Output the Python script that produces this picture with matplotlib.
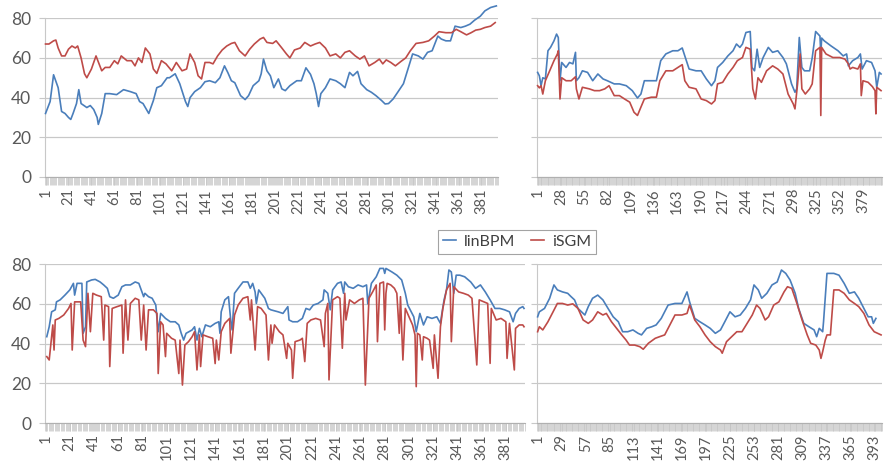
import matplotlib.pyplot as plt
from matplotlib.ticker import FixedLocator, NullFormatter

plt.rcParams['font.family'] = ['Lato', 'DejaVu Sans']

BLUE = '#4a7ebb'
RED = '#be4b48'
GRID = '#c8c8c8'
TEXT = '#595959'

# ---- top-left panel ----
tl_n = 395
tl_blue_idx = [1, 5, 8, 12, 15, 18, 21, 23, 25, 28, 30, 32, 37, 40, 43, 46, 47, 50, 53, 57, 63, 69, 75, 80,
               83, 86, 91, 95, 98, 102, 107, 109, 114, 118, 123, 125, 127, 131, 136, 140, 144, 149, 153,
               157, 160, 163, 166, 171, 175, 178, 182, 187, 189, 191, 194, 197, 200, 204, 207, 210, 214,
               220, 224, 228, 232, 235, 237, 239, 241, 245, 249, 254, 258, 262, 266, 269, 273, 276, 281,
               285, 289, 294, 297, 300, 304, 308, 313, 317, 321, 326, 330, 334, 338, 343, 346, 350, 354,
               358, 363, 367, 371, 375, 380, 384, 389, 394]
tl_blue = [32, 38, 51.5, 45, 33, 32, 30, 29, 32, 37, 44, 37, 35, 36, 34, 30, 26.5, 32, 42, 42, 41.5, 44, 43, 42,
           38, 37, 32, 38.5, 45, 46, 50, 50, 52, 47, 38, 35.5, 40, 43, 45, 48, 48.5, 47.5, 50,
           56, 52.5, 48.5, 47.5, 41, 39, 41, 46, 48.5, 52, 59.4, 53.5, 51, 45, 49.4, 44.4, 43.5, 46,
           48.5, 48.5, 55, 51.7, 47, 42, 35.5, 42, 45, 49.4, 48.5, 47, 45, 52.7, 51, 53.2, 47, 44,
           42.7, 41, 38.5, 36.8, 37, 39.3, 42.7, 47, 54.5, 62, 61, 59.4, 62.8, 63.6, 71, 69.5, 68.6, 68.6,
           76, 75.3, 76, 77, 79, 81, 83.7, 85.4, 86.2]
tl_red_idx = [1, 4, 8, 10, 12, 15, 18, 21, 24, 27, 29, 32, 35, 37, 41, 45, 50, 53, 57, 61, 64, 67, 72, 76,
              79, 82, 85, 88, 92, 95, 98, 102, 106, 111, 115, 120, 124, 127, 131, 134, 137, 140, 144, 147,
              151, 155, 159, 163, 166, 170, 175, 179, 183, 188, 191, 194, 199, 202, 207, 211, 214, 218,
              223, 227, 232, 236, 240, 245, 249, 254, 258, 262, 266, 271, 275, 279, 283, 288, 292, 295,
              298, 302, 306, 311, 315, 319, 324, 330, 335, 340, 344, 350, 355, 359, 363, 368, 372, 376,
              380, 384, 389, 393]
tl_red = [67, 67, 68.6, 69, 65, 61, 61, 64.4, 66, 65, 66, 60, 52, 50, 54.4, 61, 53.5, 55.2, 55.2, 58.6, 57, 61,
          58.6, 58.6, 56, 60, 57.7, 65, 62, 54.4, 52.2, 58.6, 57, 53.5, 57.7, 53.5, 54.4, 62, 57.7, 51,
          49.4, 57.7, 57.7, 57, 61, 64, 66, 67.3, 67.8, 63.6, 61, 64.4, 67, 69.5, 70.3, 67.8, 67.3, 68.6,
          65, 62, 60, 64, 65, 67.8, 66, 67, 67.8, 65, 61, 62, 60, 62.8, 63.6, 61, 59.4, 61, 56, 57.7,
          59.4, 57, 59, 57.7, 56, 58.3, 60, 63.6, 67.3, 67.8, 68.6, 71, 73.2, 72.7, 72.7, 74.4, 73.2,
          71.6, 72.7, 74, 74.4, 75.3, 76, 77.8]

# ---- top-right panel ----
tr_n = 401
tr_blue_idx = [1, 3, 5, 7, 10, 13, 16, 20, 23, 25, 27, 29, 34, 38, 42, 45, 46, 49, 53, 59, 65, 71, 77, 82, 90,
               96, 104, 111, 117, 121, 125, 133, 139, 144, 150, 158, 164, 169, 172, 177, 185, 191, 197,
               203, 207, 210, 216, 222, 228, 232, 236, 239, 243, 248, 250, 253, 256, 259, 263, 269, 274,
               280, 286, 290, 296, 300, 302, 305, 308, 311, 317, 320, 324, 329, 330, 331, 334, 342, 350,
               356, 360, 362, 367, 373, 376, 378, 383, 389, 393, 395, 398, 400]
tr_blue = [52.7, 51, 46, 50, 49.4, 63.6, 65.3, 68.6, 72, 70.3, 48.5, 57.7, 55.2, 57.7, 57, 62.8, 48.5, 50,
           53.5, 52.7, 48.5, 51.9, 49.4, 48.5, 46.9, 46.9, 46, 43.5, 39.8, 41.8, 48.5, 48.5, 48.5, 58.6,
           62, 63.6, 63.6, 65, 61, 54.4, 53.5, 53.5, 49.4, 46, 48.5, 55.2, 57.7, 61, 63.6, 67, 65.3, 67,
           72.8, 73.3, 55.2, 53.5, 64.4, 55.2, 60.2, 65.3, 62.8, 63.6, 60.2, 57, 46.9, 42.7, 44.4, 70.3,
           55.2, 53.5, 53.5, 60, 73.3, 71, 62, 70, 68.6, 66, 63.6, 61, 62, 56, 58.6, 60.2, 62, 54.4,
           58.6, 57.7, 53.5, 45.2, 52.7, 51.9]
tr_red_idx = [1, 3, 5, 7, 10, 15, 20, 24, 25, 27, 29, 34, 40, 45, 46, 49, 53, 61, 67, 73, 79, 84, 90, 96, 102,
              108, 113, 117, 121, 125, 133, 139, 143, 150, 158, 164, 169, 172, 177, 185, 191, 197, 203,
              207, 210, 216, 222, 228, 233, 239, 243, 248, 251, 254, 257, 261, 267, 274, 280, 286, 292,
              298, 300, 303, 306, 308, 312, 317, 320, 324, 329, 330, 331, 336, 344, 352, 358, 362, 364,
              367, 373, 376, 377, 379, 385, 390, 393, 394, 395, 400]
tr_red = [46, 44.9, 46, 41.8, 48.5, 53.5, 58.6, 62, 63.6, 39.3, 50, 48.5, 48.5, 50.5, 44.4, 39.3, 45.2,
          44.4, 43.5, 43.5, 44.4, 46, 41, 41, 39.3, 37.7, 32.6, 31, 35.2, 39.3, 40.2, 40.2, 48.5, 53.5,
          53.5, 55.2, 56.6, 48.5, 45.2, 44.4, 39.3, 38.5, 36.8, 38.5, 46.9, 47.7, 51.9, 55.2, 58.6,
          60.2, 65.3, 64.4, 44.4, 39.3, 50, 47.7, 53.5, 56, 54.4, 51.9, 41.8, 36.8, 34.3, 46.9, 62,
          44.4, 41.8, 44.4, 46.9, 63.6, 65.3, 31, 65.3, 62, 60.2, 60.2, 59.4, 57, 54.4, 55.2, 54.4, 57,
          41, 48.5, 47.7, 45.5, 43.5, 31.8, 45.2, 43.5]

# ---- bottom-left panel ----
bl_n = 396
bl_blue_idx = [2, 4, 6, 9, 10, 13, 17, 21, 24, 25, 27, 31, 32, 34, 35, 39, 42, 46, 49, 52, 54, 57, 61, 64,
               67, 71, 75, 78, 80, 82, 83, 86, 89, 92, 94, 96, 100, 104, 108, 111, 113, 115, 117, 122,
               124, 126, 128, 130, 133, 137, 141, 144, 145, 146, 149, 152, 154, 155, 157, 160, 164, 168,
               170, 172, 174, 175, 177, 179, 182, 185, 187, 193, 197, 201, 202, 205, 209, 213, 216, 219,
               222, 226, 230, 231, 234, 236, 238, 242, 245, 247, 248, 251, 255, 259, 263, 266, 267, 270,
               274, 277, 280, 281, 282, 287, 291, 295, 298, 300, 305, 307, 310, 313, 316, 320, 324, 327,
               328, 330, 332, 334, 336, 338, 340, 343, 347, 352, 356, 360, 364, 368, 372, 376, 380, 384,
               387, 389, 392, 395, 396]
bl_blue = [43.5, 48.5, 56, 57, 61, 62, 64.4, 67, 70.3, 64.4, 70.3, 70.3, 45.2, 48.5, 71, 72, 72.3, 71, 69.5,
           67.8, 63.6, 62.8, 64.4, 68.6, 69.5, 69.5, 71, 70.3, 67, 63.6, 65.3, 63.6, 62.8, 59.4, 46, 55.2,
           52.7, 51, 51, 49.4, 45.2, 41.8, 45.2, 46.9, 48.5, 41.8, 47.7, 43.5, 49.4, 48.5, 50.2, 51,
           45.2, 56, 62, 63.6, 51, 46.9, 65.3, 67.8, 71, 71, 67.8, 70.3, 66, 60.2, 67, 65.3, 62.8, 57.7,
           57, 56, 55.2, 58.6, 51.9, 51, 51, 52.7, 57.7, 57, 59.4, 60.2, 62, 67, 65.3, 57, 67, 70.3, 71,
           65.3, 71, 68.6, 67.8, 69.5, 68.6, 69.5, 60, 70.3, 73.6, 77.8, 77.8, 75.3, 77.8, 76, 74.4, 72,
           65.3, 59.4, 53.5, 46, 55.2, 49.4, 53.5, 52.7, 53.5, 50.2, 54.4, 62, 67, 77, 76, 65.3, 74.4,
           74.4, 73.6, 71, 67.8, 69.5, 66, 62, 57.7, 57.7, 57, 56, 51, 55.2, 57.7, 58.6, 57.7]
bl_red_idx = [2, 4, 6, 7, 8, 9, 12, 16, 20, 22, 23, 25, 30, 32, 34, 36, 38, 40, 43, 47, 49, 50, 53, 54, 56,
              60, 64, 65, 67, 69, 71, 75, 78, 80, 82, 84, 86, 90, 93, 94, 96, 98, 100, 101, 105, 108, 111,
              112, 114, 116, 119, 122, 124, 126, 128, 129, 131, 135, 139, 141, 142, 144, 146, 149, 153,
              154, 157, 160, 164, 168, 170, 171, 174, 176, 179, 183, 185, 187, 188, 190, 194, 197, 200,
              201, 204, 205, 207, 211, 213, 215, 217, 220, 224, 228, 231, 232, 234, 235, 238, 242, 244,
              246, 248, 249, 252, 256, 260, 263, 265, 268, 271, 274, 275, 277, 280, 281, 282, 283, 286,
              289, 291, 293, 294, 296, 298, 301, 304, 306, 307, 308, 310, 312, 313, 316, 318, 321, 322,
              325, 327, 329, 332, 335, 336, 338, 342, 346, 350, 353, 357, 359, 363, 366, 368, 369, 373,
              377, 381, 382, 384, 388, 389, 392, 395, 396]
bl_red = [33.5, 31.8, 43.5, 49.4, 36.8, 51.9, 52.7, 54.4, 57.7, 60.2, 36.8, 61, 61, 41.8, 38.5, 65.3, 46,
          65.3, 64.4, 63.6, 41.8, 59.4, 58.6, 28.5, 57.7, 58.6, 59.4, 35.2, 62, 41.8, 60.2, 62.8, 62,
          41.8, 59.4, 36.8, 57, 57, 55.2, 25, 51, 49.4, 33.5, 45.2, 42.7, 41.8, 25, 41.8, 19.2, 39.3, 41,
          43.5, 46, 26.8, 44.4, 28.5, 44.4, 43.5, 42.7, 30, 41.8, 31.8, 46, 50.2, 52.7, 35.2, 54.4, 59.4,
          62.8, 63.6, 51.9, 62, 36.8, 58.6, 57.7, 54.4, 31.8, 49.4, 40.2, 49.4, 46, 44.4, 32.6, 40.2,
          36.8, 22.6, 41, 41.8, 42.7, 31, 50.2, 51.9, 52.7, 51.9, 38.5, 55.2, 60.2, 21.8, 62, 63.6, 62.8,
          37.7, 65.3, 51.9, 62, 60.2, 62, 62.8, 19.2, 62.8, 66, 69.5, 41, 70.3, 71, 46.9, 65.3, 70.3,
          69.5, 67.8, 65.3, 45.2, 63.6, 31.8, 57.7, 53.5, 49.4, 44.4, 18.4, 45.2, 44.4, 31.8, 43.5, 42.7,
          41.8, 27.6, 44.4, 22.6, 48.5, 57.7, 67, 70.3, 41, 68.6, 66, 65.3, 64.4, 62.8, 29.3, 62, 61,
          60.2, 30.1, 57.7, 51.9, 52.7, 51, 32.6, 50.2, 26.8, 47.7, 49.4, 49.4, 48.5]

# ---- bottom-right panel ----
br_n = 402
br_blue_idx = [1, 3, 9, 15, 20, 24, 30, 36, 40, 44, 48, 56, 60, 65, 71, 77, 83, 89, 95, 100, 106, 112, 118,
               122, 128, 134, 139, 145, 153, 161, 169, 175, 178, 184, 190, 196, 202, 208, 214, 219, 225,
               231, 237, 243, 249, 253, 258, 262, 268, 274, 280, 285, 290, 295, 301, 305, 311, 317, 323,
               326, 329, 333, 334, 338, 346, 352, 358, 364, 370, 375, 381, 386, 390, 392, 395]
br_blue = [53.5, 56, 57.7, 62.8, 69.5, 67, 66, 65.3, 63.6, 62, 57.7, 54.4, 58.6, 62.8, 64.4, 62, 57.7, 53.5,
           51, 46, 46, 46.9, 45.2, 44.4, 47.7, 48.5, 49.4, 52.7, 59.4, 60.2, 60.2, 66, 61, 52.7, 51, 49.4,
           47.7, 45.2, 46.9, 51, 56, 53.5, 54.4, 57.7, 62, 69.5, 67, 62.8, 65.3, 69.5, 71, 77, 75.3, 72,
           65.3, 57.7, 50.2, 48.5, 46.9, 43.5, 47.7, 46, 51, 75.3, 75.3, 74.4, 70.3, 65.3, 66, 62.8, 57.7,
           53.5, 53.5, 50.2, 52.7]
br_red_idx = [1, 3, 7, 13, 19, 24, 30, 36, 42, 48, 54, 60, 65, 71, 77, 81, 87, 93, 99, 104, 108, 114, 120,
              124, 130, 138, 143, 149, 155, 161, 169, 175, 178, 184, 190, 196, 202, 208, 214, 216, 221,
              227, 233, 239, 245, 251, 256, 260, 266, 270, 276, 282, 288, 292, 297, 303, 309, 315, 319,
              325, 329, 331, 333, 336, 338, 342, 346, 352, 358, 364, 370, 375, 381, 387, 393, 397, 401]
br_red = [46, 48.5, 46.9, 51, 56, 60.2, 60.2, 59.4, 60, 57.7, 51.9, 50.2, 51.9, 56, 54.4, 55.2, 51, 47.7,
          44.4, 41.8, 39.3, 39.3, 38.5, 37.2, 40.2, 42.7, 43.5, 44.4, 49.4, 54.4, 54.4, 55.2, 59.4, 51.9,
          48.5, 44.4, 41, 38.5, 36.8, 35.2, 41, 43.5, 46, 46, 50.2, 54.4, 59.4, 57.7, 51.9, 53.5, 59.4,
          61, 66, 68.6, 67.8, 60.2, 51.9, 44.4, 40.2, 39.3, 36.8, 32.6, 36, 41.8, 44.4, 44.4, 67, 67,
          65.3, 62, 60.2, 58.6, 55.2, 49.4, 46, 45.2, 44.4]

y_ticks = [0, 20, 40, 60, 80]


def draw_panel(ax, n, step, bx, by, rx, ry, ylabels):
    # lines may rise above the 80 gridline, as in the source chart
    ax.plot(bx, by, color=BLUE, lw=1.2, label='linBPM', zorder=3, clip_on=False)
    ax.plot(rx, ry, color=RED, lw=1.2, label='iSGM', zorder=4, clip_on=False)
    ax.set_xlim(0.5, n + 0.5)
    ax.set_ylim(0, 80)
    ax.set_yticks(y_ticks)
    ax.yaxis.grid(True, color=GRID, lw=0.9)
    ax.set_axisbelow(True)
    for s in ['top', 'right']:
        ax.spines[s].set_visible(False)
    ax.spines['left'].set_color(GRID)
    ax.spines['bottom'].set_color('#b0b0b0')
    ticks = list(range(1, n + 1, step))
    ax.set_xticks(ticks)
    ax.set_xticklabels([str(t) for t in ticks], rotation=90)
    ax.xaxis.set_minor_locator(FixedLocator([i + 0.5 for i in range(n + 1)]))
    ax.xaxis.set_minor_formatter(NullFormatter())
    ax.tick_params(axis='x', which='both', length=6, width=0.5, color='#c4c4c4',
                   labelsize=10.5, labelcolor=TEXT, pad=2)
    ax.tick_params(axis='y', length=4, width=0.8, color=GRID, labelsize=12.5, labelcolor=TEXT, pad=6)
    if not ylabels:
        ax.set_yticklabels([])


fig = plt.figure(figsize=(8.85, 4.67), dpi=100)
ax_tl = fig.add_axes([0.0508, 0.621, 0.512, 0.340])
ax_tr = fig.add_axes([0.607, 0.621, 0.390, 0.340])
ax_bl = fig.add_axes([0.0508, 0.0936, 0.542, 0.341])
ax_br = fig.add_axes([0.607, 0.0936, 0.390, 0.341])

draw_panel(ax_tl, tl_n, 20, tl_blue_idx, tl_blue, tl_red_idx, tl_red, True)
draw_panel(ax_tr, tr_n, 27, tr_blue_idx, tr_blue, tr_red_idx, tr_red, False)
draw_panel(ax_bl, bl_n, 20, bl_blue_idx, bl_blue, bl_red_idx, bl_red, True)
draw_panel(ax_br, br_n, 28, br_blue_idx, br_blue, br_red_idx, br_red, False)

handles, labels = ax_tl.get_legend_handles_labels()
leg = fig.legend(handles, labels, loc='center', bbox_to_anchor=(0.584, 0.482), ncol=2,
                 fontsize=11.5, frameon=True, fancybox=False, handlelength=0.8,
                 handletextpad=0.5, columnspacing=1.0, borderpad=0.3)
leg.get_frame().set_edgecolor('#8c8c8c')
leg.get_frame().set_linewidth(0.8)
for t in leg.get_texts():
    t.set_color('#404040')

fig.savefig('out.png', dpi=100)
